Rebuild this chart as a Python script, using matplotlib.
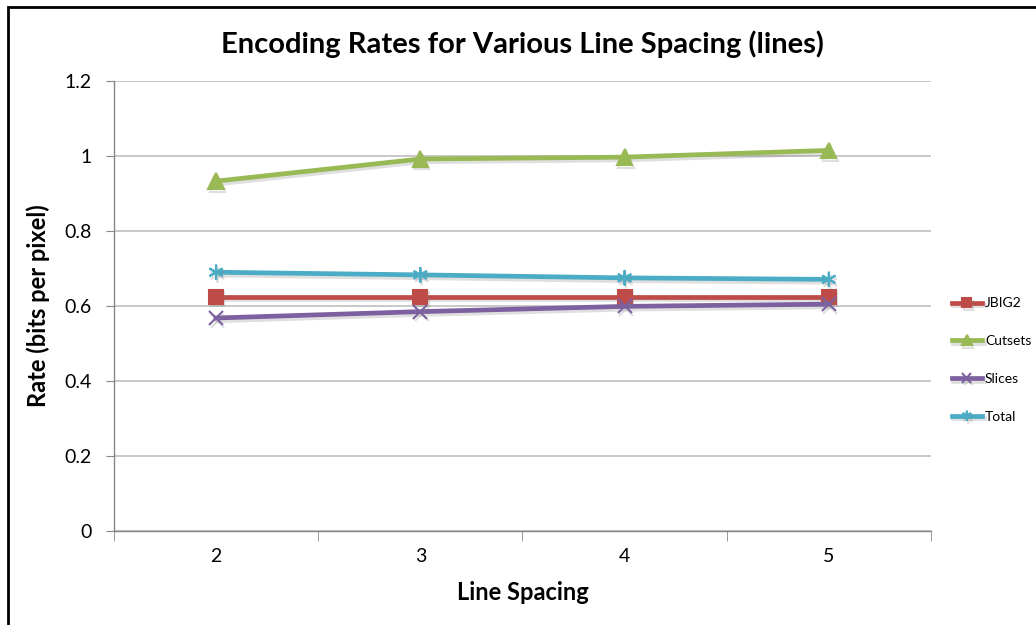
import matplotlib.pyplot as plt
import matplotlib.patheffects as pe
from matplotlib.patches import Rectangle

plt.rcParams['font.family'] = ['Lato', 'DejaVu Sans']

spacing = [2, 3, 4, 5]
jbig2 = [0.625, 0.625, 0.625, 0.625]
cutsets = [0.933, 0.992, 0.997, 1.015]
slices = [0.568, 0.585, 0.599, 0.605]
total = [0.690, 0.683, 0.675, 0.671]

series = [
    ("JBIG2", jbig2, "#BE4B48", "s", 10),
    ("Cutsets", cutsets, "#98B954", "^", 11),
    ("Slices", slices, "#7D60A0", "x", 10),
    ("Total", total, "#4BACC6", (6, 2, 0), 11),
]

fig = plt.figure(figsize=(10.36, 6.25), dpi=100)
ax = fig.add_axes([0.110, 0.1504, 0.7886, 0.72])

shadow = [pe.SimpleLineShadow(offset=(1, -2), alpha=0.25, shadow_color='gray'), pe.Normal()]
for name, vals, col, mk, ms in series:
    ax.plot(spacing, vals, color=col, lw=3.4, marker=mk, ms=ms,
            mec=col, mew=1.5, label=name, path_effects=shadow, zorder=3)

ax.set_xlim(1.5, 5.5)
ax.set_ylim(0, 1.2)
ax.set_yticks([0, 0.2, 0.4, 0.6, 0.8, 1.0, 1.2])
ax.set_yticklabels(["0", "0.2", "0.4", "0.6", "0.8", "1", "1.2"])
ax.set_xticks(spacing)
ax.set_xticks([1.5, 2.5, 3.5, 4.5, 5.5], minor=True)
ax.tick_params(axis='x', which='major', length=0, pad=12, labelsize=14)
ax.tick_params(axis='x', which='minor', length=7, color='#868686')
ax.tick_params(axis='y', length=6, color='#868686', pad=10, labelsize=14)
ax.grid(axis='y', color='#BFBFBF', lw=1.2)
ax.set_axisbelow(True)
for s in ['top', 'right']:
    ax.spines[s].set_visible(False)
for s in ['left', 'bottom']:
    ax.spines[s].set_color('#868686')
    ax.spines[s].set_linewidth(1.0)

ax.set_title("Encoding Rates for Various Line Spacing (lines)", fontsize=21,
             fontweight='bold', pad=20)
ax.set_ylabel("Rate (bits per pixel)", fontsize=17, fontweight='bold', labelpad=10)
ax.set_xlabel("Line Spacing", fontsize=17, fontweight='bold', labelpad=12)

ax.legend(loc='center left', bbox_to_anchor=(1.01, 0.38), frameon=False,
          fontsize=10, handlelength=2.2, handletextpad=0.2, labelspacing=1.85,
          markerscale=0.65)

fig.patches.append(Rectangle((8 / 1036, -0.1), 1.2, 1 - 7 / 625 + 0.1,
                             transform=fig.transFigure, fill=False,
                             edgecolor='black', lw=2))

fig.savefig("out.png", dpi=100)
